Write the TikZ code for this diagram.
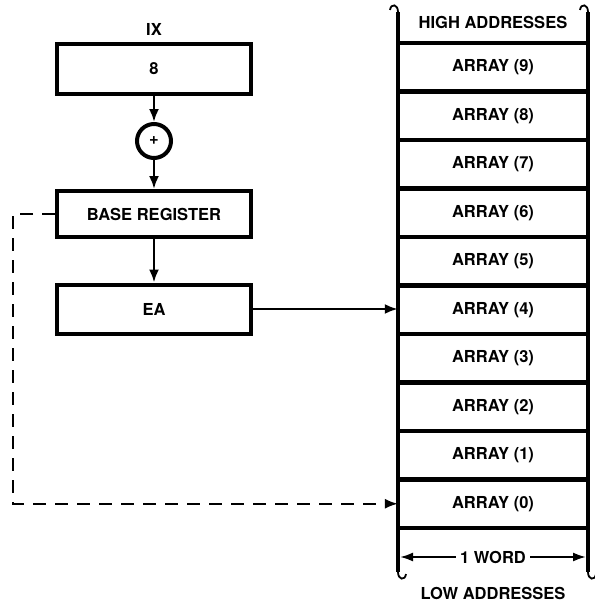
\documentclass[tikz,border=0pt]{standalone}
\usepackage{fontspec}
\setmainfont{TeX Gyre Heros}
\usetikzlibrary{arrows.meta}

\begin{document}
\begin{tikzpicture}[x=1pt, y=-1pt,
        font=\fontsize{16.5}{19}\selectfont\bfseries,
        reg/.style={draw, line width=4pt, minimum width=194pt, inner sep=0pt},
        cell/.style={minimum width=190pt, minimum height=48.5pt, inner sep=0pt},
        flow/.style={line width=2.4pt, -{Latex[length=13pt, width=10pt]}},
        link/.style={line width=1.8pt, dash pattern=on 13pt off 9pt, -{Latex[length=13pt, width=10pt]}}]
    \useasboundingbox (0,0) rectangle (594,602);
    % Index register, adder, base register and EA:
    \node (ixname) at (154,29) {IX};
    \node[reg, minimum height=50pt] (ix) at (154,69) {8};
    \node[draw, circle, line width=4pt, minimum size=34pt, inner sep=0pt] (adder) at (154,141) {+};
    \node[reg, minimum height=46pt] (base) at (154,214) {BASE REGISTER};
    \node[reg, minimum height=49pt] (ea) at (154,309) {EA};
    \draw[flow] (ix) -- (adder);
    \draw[flow] (adder) -- (base);
    \draw[flow] (base) -- (ea);
    % Memory words, one per row:
    \foreach \k in {0,...,9} {
        \pgfmathtruncatemacro{\idx}{9-\k}
        \node[cell] (mem\idx) at (493, {43+48.5*(\k+0.5)}) {ARRAY (\idx)};
        \draw[line width=4.5pt] (mem\idx.south west) -- (mem\idx.south east);
    }
    \draw[line width=4.5pt] (mem9.north west) -- (mem9.north east);
    \coordinate (lefttop) at (398,12);
    \coordinate (leftbot) at (398,572);
    \coordinate (righttop) at (588,12);
    \coordinate (rightbot) at (588,572);
    \draw[line width=4pt] (lefttop) -- (leftbot);
    \draw[line width=4pt] (righttop) -- (rightbot);
    % Break marks at the ends of the memory:
    \draw[line width=1.8pt] (lefttop) .. controls (398,4) and (391,3) .. (390,10);
    \draw[line width=1.8pt] (righttop) .. controls (588,4) and (581,3) .. (580,10);
    \draw[line width=1.8pt] (leftbot) .. controls (398,580) and (405,581) .. (406,574);
    \draw[line width=1.8pt] (rightbot) .. controls (588,580) and (595,581) .. (596,574);
    \node (high) at (493,22) {HIGH ADDRESSES};
    \node (low) at (493,593) {LOW ADDRESSES};
    \coordinate (wordl) at (400,557);
    \coordinate (wordr) at (586,557);
    \draw[line width=2pt, {Latex[length=13pt, width=9pt]}-{Latex[length=13pt, width=9pt]}] (wordl) -- (wordr)
        node[midway, fill=white, inner sep=4pt] (word) {1 WORD};
    % Address paths:
    \draw[flow] (ea.east) -- (ea.east -| mem4.west);
    \draw[link] (base.west) -- ++(-42,0) |- (mem0.west);
\end{tikzpicture}
\end{document}
